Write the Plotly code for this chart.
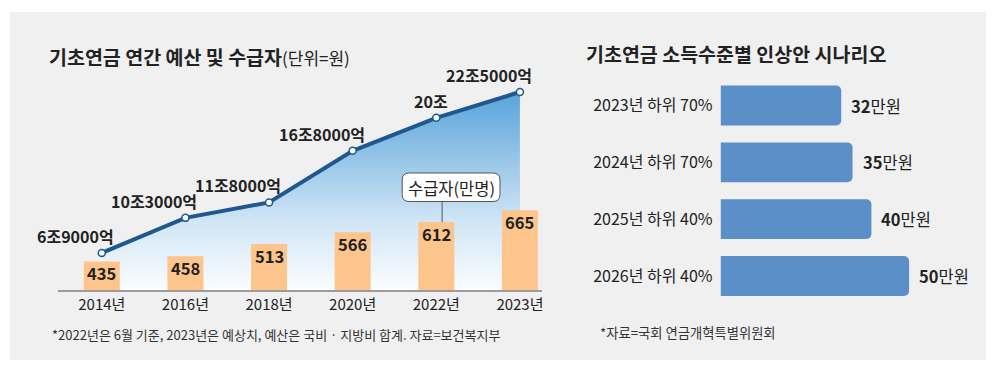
import plotly.graph_objects as go

# ---------------- data ----------------
years = ["2014년", "2016년", "2018년", "2020년", "2022년", "2023년"]
budget_jo = [6.9, 10.3, 11.8, 16.8, 20.0, 22.5]          # 조 원
budget_labels = ["6조9000억", "10조3000억", "11조8000억", "16조8000억", "20조", "22조5000억"]
recipients = [435, 458, 513, 566, 612, 665]                # 만명

scenarios = ["2023년 하위 70%", "2024년 하위 70%", "2025년 하위 40%", "2026년 하위 40%"]
amounts = [32, 35, 40, 50]                                 # 만원

W, H = 999, 391
def px(x): return x / W
def py(y): return 1 - y / H

NUM = "Noto Sans CJK KR, sans-serif"
KR = "Noto Sans CJK KR, sans-serif"
TXT = "#222222"

fig = go.Figure()

# budget line with gradient fill
fig.add_trace(go.Scatter(
    x=years, y=budget_jo, xaxis="x", yaxis="y",
    mode="lines+markers",
    line=dict(color="#1f5890", width=4),
    marker=dict(size=7, color="white", line=dict(color="#1f5890", width=1.5)),
    fill="tozeroy",
    fillgradient=dict(type="vertical",
                      colorscale=[[0, "#fbfdfe"], [0.35, "#d0e5f5"], [1, "#58a3da"]],
                      start=3.31, stop=max(budget_jo)),
    hoverinfo="skip", showlegend=False,
))

# recipients bars
fig.add_trace(go.Bar(
    x=years, y=recipients, xaxis="x", yaxis="y2",
    marker=dict(color="#fdc58b", line=dict(width=0)),
    width=0.43, hoverinfo="skip", showlegend=False,
))

# scenario bars
fig.add_trace(go.Bar(
    x=amounts, y=scenarios, orientation="h", xaxis="x3", yaxis="y3",
    marker=dict(color="#5b8fc7", line=dict(width=0), cornerradius=5),
    width=0.70, hoverinfo="skip", showlegend=False,
))

annotations = []
# budget labels
for yr, v, lab in zip(years, budget_jo, budget_labels):
    annotations.append(dict(x=yr, y=v, xref="x", yref="y", text=f"<b>{lab}</b>",
                            showarrow=False, xanchor="right", yanchor="middle",
                            xshift=14, yshift=17,
                            font=dict(family=NUM, size=16, color=TXT)))
# recipient labels
for yr, v in zip(years, recipients):
    annotations.append(dict(x=yr, y=v, xref="x", yref="y2", text=f"<b>{v}</b>",
                            showarrow=False, xanchor="center", yanchor="top",
                            yshift=2,
                            font=dict(family=NUM, size=16.5, color=TXT)))
# scenario value labels
for s, v in zip(scenarios, amounts):
    annotations.append(dict(x=v, y=s, xref="x3", yref="y3", text=f"<b>{v}</b>만원",
                            showarrow=False, xanchor="left", yanchor="middle",
                            xshift=8,
                            font=dict(family=NUM, size=16.5, color=TXT)))

# titles & notes
annotations += [
    dict(x=px(47), y=py(57), xref="paper", yref="paper", xanchor="left", yanchor="middle",
         showarrow=False,
         text="<b>기초연금 연간 예산 및 수급자</b><span style='font-size:17px'>(단위=원)</span>",
         font=dict(family=KR, size=19.5, color=TXT)),
    dict(x=px(585), y=py(53), xref="paper", yref="paper", xanchor="left", yanchor="middle",
         showarrow=False, text="<b>기초연금 소득수준별 인상안 시나리오</b>",
         font=dict(family=KR, size=19.5, color=TXT)),
    dict(x=px(50), y=py(334), xref="paper", yref="paper", xanchor="left", yanchor="middle",
         showarrow=False,
         text="*2022년은 6월 기준, 2023년은 예상치, 예산은 국비 · 지방비 합계. 자료=보건복지부",
         font=dict(family=NUM, size=13, color="#333333")),
    dict(x=px(599), y=py(332), xref="paper", yref="paper", xanchor="left", yanchor="middle",
         showarrow=False, text="*자료=국회 연금개혁특별위원회",
         font=dict(family=NUM, size=13.3, color="#333333")),
    dict(x=px(452), y=py(187.5), xref="paper", yref="paper", xanchor="center", yanchor="middle",
         showarrow=False, text="수급자(만명)",
         font=dict(family=KR, size=16.5, color=TXT)),
]

# rounded callout box
def rrect(x0, y0, x1, y1, r):
    X0, X1 = px(x0), px(x1)
    Y0, Y1 = py(y0), py(y1)
    rx, ry = r / W, r / H
    return (f"M {X0+rx},{Y0} L {X1-rx},{Y0} Q {X1},{Y0} {X1},{Y0-ry} "
            f"L {X1},{Y1+ry} Q {X1},{Y1} {X1-rx},{Y1} L {X0+rx},{Y1} "
            f"Q {X0},{Y1} {X0},{Y1+ry} L {X0},{Y0-ry} Q {X0},{Y0} {X0+rx},{Y0} Z")

shapes = [
    dict(type="rect", xref="paper", yref="paper", x0=px(10), x1=px(988), y0=py(360), y1=py(12),
         fillcolor="#f0f0f1", line=dict(width=0), layer="below"),
    dict(type="line", xref="paper", yref="paper", x0=px(443), x1=px(443), y0=py(201.5), y1=py(222),
         line=dict(color="#555555", width=1), layer="above"),
    dict(type="path", xref="paper", yref="paper", path=rrect(403, 173, 501, 201.5, 7),
         fillcolor="white", line=dict(color="#555555", width=1), layer="above"),
]

fig.update_layout(
    width=W, height=H,
    margin=dict(l=0, r=0, t=0, b=0),
    paper_bgcolor="white", plot_bgcolor="rgba(0,0,0,0)",
    showlegend=False,
    xaxis=dict(domain=[px(58), px(543)], range=[-0.525, 5.263], type="category",
               showline=True, linecolor="#9c9c9c", linewidth=1.5, showgrid=False,
               zeroline=False, ticks="", ticklabelstandoff=0, fixedrange=True,
               tickfont=dict(family=NUM, size=15, color=TXT), anchor="y"),
    yaxis=dict(domain=[py(290), py(70)], range=[3.31, 24.63], visible=False, fixedrange=True),
    yaxis2=dict(overlaying="y", range=[307, 1293.5], visible=False, fixedrange=True),
    xaxis3=dict(domain=[px(722), px(985)], range=[0, 69.6], visible=False, anchor="y3",
                fixedrange=True),
    yaxis3=dict(domain=[py(304.4), py(77.1)], type="category", range=[3.5, -0.5],
                anchor="x3", showline=False, showgrid=False, zeroline=False, ticks="",
                ticklabelstandoff=7, fixedrange=True,
                tickfont=dict(family=NUM, size=16, color=TXT)),
    annotations=annotations,
    shapes=shapes,
)

fig.write_html("out.html", config={"displayModeBar": False},
               post_script="document.body.style.margin='0';")
